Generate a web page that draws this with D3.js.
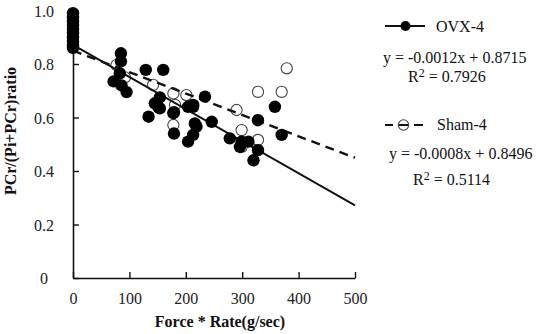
<!DOCTYPE html>
<html>
<head>
<meta charset="utf-8">
<script src="https://cdn.jsdelivr.net/npm/d3@7/dist/d3.min.js"></script>
<style>
  html, body { margin: 0; padding: 0; background: #fff; }
  svg { display: block; }
  svg text { font-family: 'Liberation Serif', 'Times New Roman', serif; }
</style>
</head>
<body>
<svg id="chart" width="544" height="334"></svg>
<script>
// OVX-4 group: force*rate (g/sec) and PCr/(Pi+PCr)
const ovxX = [0, 0, 0, 0, 0, 0, 0, 0, 0, 0,
  85, 85, 83, 72, 86, 95, 129, 160, 154, 151, 145, 154, 134,
  179, 178, 179, 204, 213, 204, 234, 213, 216, 219, 213, 246,
  278, 299, 311, 296, 328, 328, 320, 358, 370];
const ovxY = [0.99, 0.975, 0.96, 0.945, 0.93, 0.915, 0.90, 0.885, 0.87, 0.86,
  0.84, 0.81, 0.765, 0.735, 0.72, 0.695, 0.778, 0.778, 0.675, 0.64, 0.653, 0.634, 0.603,
  0.62, 0.616, 0.54, 0.64, 0.64, 0.51, 0.678, 0.647, 0.578, 0.566, 0.535, 0.584,
  0.522, 0.51, 0.51, 0.49, 0.59, 0.478, 0.44, 0.64, 0.535];

// Sham-4 group
const shamX = [0, 0, 0, 0, 0,
  77, 92, 142, 178, 201, 181, 178, 290, 299, 299, 328, 328, 370, 379];
const shamY = [0.97, 0.96, 0.95, 0.92, 0.90,
  0.796, 0.75, 0.722, 0.69, 0.684, 0.647, 0.572, 0.628, 0.553, 0.49, 0.516, 0.696, 0.696, 0.784];

// Linear fits
const ovxFit = { slope: -0.0012, intercept: 0.8715, r2: "0.7926" };
const shamFit = { slope: -0.0008, intercept: 0.8496, r2: "0.5114" };

const xTicks = [0, 100, 200, 300, 400, 500];
const yTicks = [0, 0.2, 0.4, 0.6, 0.8, 1.0];
const seriesNames = ["OVX-4", "Sham-4"];
const xTitle = "Force * Rate(g/sec)";
const yTitle = "PCr/(Pi+PCr)ratio";

const svg = d3.select("#chart");
const x = d3.scaleLinear().domain([0, 500]).range([73, 355]);
const y = d3.scaleLinear().domain([0, 1]).range([278, 10.5]);

const ink = "#111";
const fontSize = 16;
const serif = "'Liberation Serif', 'Times New Roman', serif";

// Axes
const yAxis = d3.axisLeft(y).tickValues(yTicks).tickSizeInner(-6).tickSizeOuter(0)
  .tickFormat(d => d === 0 ? "0" : d3.format(".1f")(d));
const gy = svg.append("g").attr("transform", `translate(${x(0)},0)`).call(yAxis);
gy.selectAll("text").attr("x", -29).attr("text-anchor", "middle").attr("dy", "0.35em");

const xAxis = d3.axisBottom(x).tickValues(xTicks).tickSizeInner(-6).tickSizeOuter(0)
  .tickFormat(d3.format("d"));
const gx = svg.append("g").attr("transform", `translate(0,${y(0)})`).call(xAxis);
gx.selectAll("text").attr("y", 26).attr("dy", 0);

[gx, gy].forEach(g => {
  g.attr("font-family", serif).attr("font-size", fontSize);
  g.selectAll("text").attr("fill", "#222");
  g.select(".domain").attr("stroke", ink).attr("stroke-width", 1.6);
  g.selectAll(".tick line").attr("stroke", ink).attr("stroke-width", 1.4);
});

// Axis titles
svg.append("text").attr("x", 220).attr("y", 327).attr("text-anchor", "middle")
  .attr("font-size", fontSize).attr("font-weight", "bold").attr("fill", ink)
  .text(xTitle);
svg.append("text").attr("transform", "translate(16,131) rotate(-90)").attr("text-anchor", "middle")
  .attr("font-size", fontSize).attr("font-weight", "bold").attr("fill", ink)
  .text(yTitle);

// Open markers for Sham-4
const plot = svg.append("g");
plot.selectAll("circle.sham").data(d3.range(shamX.length)).join("circle")
  .attr("class", "sham")
  .attr("cx", i => x(shamX[i])).attr("cy", i => y(shamY[i])).attr("r", 5.6)
  .attr("fill", "none").attr("stroke", "#444").attr("stroke-width", 1.1);

// Fitted lines
const fitLine = f => [[0, f.intercept], [500, f.intercept + f.slope * 500]];
const line = d3.line().x(d => x(d[0])).y(d => y(d[1]));
plot.append("path").attr("d", line(fitLine(shamFit)))
  .attr("stroke", ink).attr("stroke-width", 2.4).attr("stroke-dasharray", "9,6").attr("fill", "none");
plot.append("path").attr("d", line(fitLine(ovxFit)))
  .attr("stroke", ink).attr("stroke-width", 2).attr("fill", "none");

// Filled markers for OVX-4
plot.selectAll("circle.ovx").data(d3.range(ovxX.length)).join("circle")
  .attr("class", "ovx")
  .attr("cx", i => x(ovxX[i])).attr("cy", i => y(ovxY[i])).attr("r", 6.2)
  .attr("fill", "#000");

// Legend and fit equations
const fmtEq = f => `y = ${f.slope}x + ${f.intercept}`;
const leg = svg.append("g").attr("font-size", fontSize).attr("fill", ink);

leg.append("line").attr("x1", 385).attr("x2", 425).attr("y1", 26).attr("y2", 26)
  .attr("stroke", ink).attr("stroke-width", 2);
leg.append("circle").attr("cx", 405.5).attr("cy", 26).attr("r", 5).attr("fill", "#000");
leg.append("text").attr("x", 436).attr("y", 31.5).text(seriesNames[0]);
leg.append("text").attr("x", 383).attr("y", 63).text(fmtEq(ovxFit));
const r1 = leg.append("text").attr("x", 408).attr("y", 81.5);
r1.append("tspan").text("R");
r1.append("tspan").attr("dy", -5).attr("font-size", 12).text("2");
r1.append("tspan").attr("dy", 5).text(" = " + ovxFit.r2);

[[385, 393], [399, 408], [414, 423]].forEach(s => {
  leg.append("line").attr("x1", s[0]).attr("x2", s[1]).attr("y1", 125).attr("y2", 125)
    .attr("stroke", ink).attr("stroke-width", 2);
});
leg.append("circle").attr("cx", 403.5).attr("cy", 125).attr("r", 5.2)
  .attr("fill", "none").attr("stroke", "#444").attr("stroke-width", 1.1);
leg.append("text").attr("x", 437).attr("y", 130).text(seriesNames[1]);
leg.append("text").attr("x", 389).attr("y", 159).text(fmtEq(shamFit));
const r2 = leg.append("text").attr("x", 413).attr("y", 185);
r2.append("tspan").text("R");
r2.append("tspan").attr("dy", -5).attr("font-size", 12).text("2");
r2.append("tspan").attr("dy", 5).text(" = " + shamFit.r2);
</script>
</body>
</html>
